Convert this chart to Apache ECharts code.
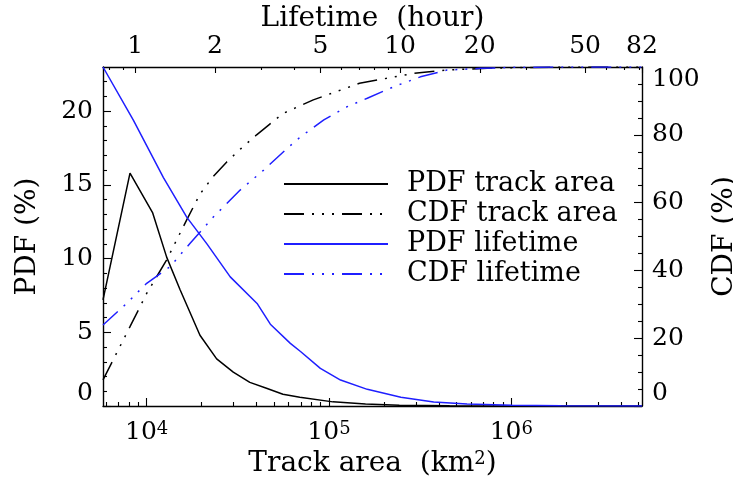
<!DOCTYPE html>
<html><head><meta charset="utf-8">
<script src="https://cdn.jsdelivr.net/npm/echarts@6/dist/echarts.min.js"></script>
<style>html,body{margin:0;padding:0;background:#fff}#c{width:733px;height:484px}</style>
</head><body><div id="c"></div>
<script>
// ---- data ----
// PDF of track area (km^2, %)
const areaPdfX = [5760, 8100, 10790, 12870, 15230, 19600, 24200, 29850, 36800, 45400, 55900, 69200, 105000, 158600, 243000, 459000, 1000000, 5210000];
const areaPdfY = [7.2, 15.8, 13.1, 10.1, 7.9, 4.8, 3.2, 2.3, 1.6, 1.2, 0.8, 0.6, 0.28, 0.13, 0.05, 0.01, 0, 0];
// CDF of track area (km^2, %)
const areaCdfX = [5760, 8100, 10000, 12870, 16580, 19600, 23000, 27500, 33000, 40100, 47000, 56000, 82000, 147000, 290000, 440000, 800000, 1850000, 5210000];
const areaCdfY = [7.7, 23.4, 33.2, 43.1, 54.9, 62.5, 67.5, 72, 76, 80, 83, 86.3, 90.3, 95.2, 98.1, 99.1, 99.7, 100, 100];
// PDF of lifetime (hour, %)
const lifePdfX = [0.755, 0.983, 1.277, 1.566, 1.864, 2.283, 2.883, 3.236, 3.851, 4.207, 5.0, 5.96, 7.52, 10.07, 13.4, 17.9, 26.5, 40.5, 82];
const lifePdfY = [23.0, 19.4, 15.5, 12.8, 11.0, 8.76, 6.96, 5.55, 4.25, 3.7, 2.55, 1.76, 1.13, 0.59, 0.27, 0.14, 0.05, 0.02, 0];
// CDF of lifetime (hour, %)
const lifeCdfX = [0.755, 0.928, 1.104, 1.353, 1.611, 1.974, 2.489, 3.055, 3.744, 4.207, 5.153, 6.316, 7.52, 9.48, 11.94, 15.04, 20.2, 27, 40.5, 82];
const lifeCdfY = [23.9, 30.3, 36.2, 41.1, 48.0, 55.8, 63.7, 69.6, 76.0, 79.4, 84.4, 88.3, 90.8, 94.2, 97.1, 99.1, 99.6, 99.9, 100, 100];

// axis ranges and ticks
const AREA_MIN = 5760, AREA_MAX = 5210000;
const LIFE_MIN = 0.755, LIFE_MAX = 82;
const PDF_MAX = 23;
const areaMajorTicks = [1e4, 1e5, 1e6];
const areaMinorTicks = [6000, 7000, 8000, 9000, 2e4, 3e4, 4e4, 5e4, 6e4, 7e4, 8e4, 9e4, 2e5, 3e5, 4e5, 5e5, 6e5, 7e5, 8e5, 9e5, 2e6, 3e6, 4e6, 5e6];
const lifeMajorTicks = [1, 2, 5, 10, 20, 50, 82];
const lifeMinorTicks = [0.8, 0.9, 3, 4, 6, 7, 8, 9, 30, 40, 60, 70, 80];
const pdfMajorTicks = [0, 5, 10, 15, 20];
const pdfMinorTicks = [1, 2, 3, 4, 6, 7, 8, 9, 11, 12, 13, 14, 16, 17, 18, 19, 21, 22];
const seriesNames = ['PDF track area', 'CDF track area', 'PDF lifetime', 'CDF lifetime'];

// ---- chart ----
const FONT = 'DejaVu Serif';
const BLUE = '#1f1fff';
const DASH3DOT = [20, 8, 2, 8, 2, 8, 2, 8];
const lg = Math.log10;
const zip = (xs, ys) => xs.map((x, i) => [x, ys[i]]);
const AXIS_LINE = {show: true, onZero: false, lineStyle: {color: '#000', width: 1.4}};
const NO_LINE = {show: false, onZero: false};
const TICK_STYLE = {color: '#000', width: 1.1};
const LABEL = {fontFamily: FONT, fontSize: 25, color: '#000'};
const NAME = {fontFamily: FONT, fontSize: 28, color: '#000'};
const off = {show: false};

const chart = echarts.init(document.getElementById('c'), null, {renderer: 'canvas'});
chart.setOption({
  animation: false,
  backgroundColor: '#fff',
  grid: {left: 103, top: 67, width: 539, height: 339, containLabel: false, outerBoundsMode: 'none'},
  legend: {
    orient: 'vertical', left: 278, top: 164,
    itemWidth: 104, itemHeight: 4, itemGap: 0,
    itemStyle: {opacity: 0},
    textStyle: {fontFamily: FONT, fontSize: 27, color: '#000', lineHeight: 30, padding: [0, 0, 0, 14]},
    data: seriesNames
  },
  xAxis: [
    {type: 'log', position: 'bottom', min: AREA_MIN, max: AREA_MAX, axisLine: AXIS_LINE,
     axisTick: off, axisLabel: off, splitLine: off, minorTick: off, minorSplitLine: off,
     name: 'Track area  (km{s|2})', nameLocation: 'middle', nameGap: 44,
     nameTextStyle: Object.assign({}, NAME, {rich: {s: {fontFamily: FONT, fontSize: 18, color: '#000', verticalAlign: 'top'}}})},
    {type: 'log', position: 'top', min: LIFE_MIN, max: LIFE_MAX, axisLine: AXIS_LINE,
     axisTick: off, axisLabel: off, splitLine: off, minorTick: off, minorSplitLine: off,
     name: 'Lifetime  (hour)', nameLocation: 'middle', nameGap: 34, nameTextStyle: NAME},
    {type: 'value', position: 'bottom', min: lg(AREA_MIN), max: lg(AREA_MAX), axisLine: NO_LINE, splitLine: off,
     axisTick: {show: true, inside: true, length: 8, customValues: areaMajorTicks.map(lg), lineStyle: TICK_STYLE},
     axisLabel: Object.assign({}, LABEL, {show: true, margin: 14, customValues: areaMajorTicks.map(lg),
       formatter: v => '{b|10}{s|' + Math.round(v) + '}',
       rich: {b: Object.assign({}, LABEL), s: {fontFamily: FONT, fontSize: 18, color: '#000', verticalAlign: 'top'}}})},
    {type: 'value', position: 'bottom', min: lg(AREA_MIN), max: lg(AREA_MAX), axisLine: NO_LINE, splitLine: off,
     axisTick: {show: true, inside: true, length: 4, customValues: areaMinorTicks.map(lg), lineStyle: TICK_STYLE},
     axisLabel: off},
    {type: 'value', position: 'top', min: lg(LIFE_MIN), max: lg(LIFE_MAX), axisLine: NO_LINE, splitLine: off,
     axisTick: {show: true, inside: true, length: 6, customValues: lifeMajorTicks.map(lg), lineStyle: TICK_STYLE},
     axisLabel: Object.assign({}, LABEL, {show: true, margin: 8, customValues: lifeMajorTicks.map(lg),
       formatter: v => { const i = lifeMajorTicks.findIndex(t => Math.abs(lg(t) - v) < 1e-6); return i >= 0 ? String(lifeMajorTicks[i]) : ''; }})},
    {type: 'value', position: 'top', min: lg(LIFE_MIN), max: lg(LIFE_MAX), axisLine: NO_LINE, splitLine: off,
     axisTick: {show: true, inside: true, length: 3, customValues: lifeMinorTicks.map(lg), lineStyle: TICK_STYLE},
     axisLabel: off}
  ],
  yAxis: [
    {type: 'value', position: 'left', min: 0, max: PDF_MAX, axisLine: AXIS_LINE, splitLine: off,
     axisTick: {show: true, inside: true, length: 8, customValues: pdfMajorTicks, lineStyle: TICK_STYLE},
     axisLabel: Object.assign({}, LABEL, {margin: 10, customValues: pdfMajorTicks, verticalAlignMinLabel: 'bottom'}),
     name: 'PDF (%)', nameLocation: 'middle', nameGap: 61, nameTextStyle: NAME},
    {type: 'value', position: 'right', min: 0, max: 100, interval: 20, axisLine: AXIS_LINE, splitLine: off,
     axisTick: {show: true, inside: true, length: 8, lineStyle: TICK_STYLE},
     minorTick: {show: true, splitNumber: 4, length: 4, lineStyle: TICK_STYLE},
     axisLabel: Object.assign({}, LABEL, {margin: 10, verticalAlignMinLabel: 'bottom', verticalAlignMaxLabel: 'top'}),
     name: 'CDF (%)', nameLocation: 'middle', nameGap: 63, nameTextStyle: NAME},
    {type: 'value', position: 'left', min: 0, max: PDF_MAX, axisLine: NO_LINE, splitLine: off,
     axisTick: {show: true, inside: true, length: 4, customValues: pdfMinorTicks, lineStyle: TICK_STYLE},
     axisLabel: off}
  ],
  series: [
    {name: seriesNames[0], type: 'line', xAxisIndex: 0, yAxisIndex: 0, data: zip(areaPdfX, areaPdfY),
     symbol: 'none', color: '#000', lineStyle: {color: '#000', width: 1.5}},
    {name: seriesNames[1], type: 'line', xAxisIndex: 0, yAxisIndex: 1, data: zip(areaCdfX, areaCdfY),
     symbol: 'none', color: '#000', lineStyle: {color: '#000', width: 1.5, type: DASH3DOT}},
    {name: seriesNames[2], type: 'line', xAxisIndex: 1, yAxisIndex: 0, data: zip(lifePdfX, lifePdfY),
     symbol: 'none', color: BLUE, lineStyle: {color: BLUE, width: 1.5}},
    {name: seriesNames[3], type: 'line', xAxisIndex: 1, yAxisIndex: 1, data: zip(lifeCdfX, lifeCdfY),
     symbol: 'none', color: BLUE, lineStyle: {color: BLUE, width: 1.5, type: DASH3DOT}}
  ]
});
</script>
</body></html>
